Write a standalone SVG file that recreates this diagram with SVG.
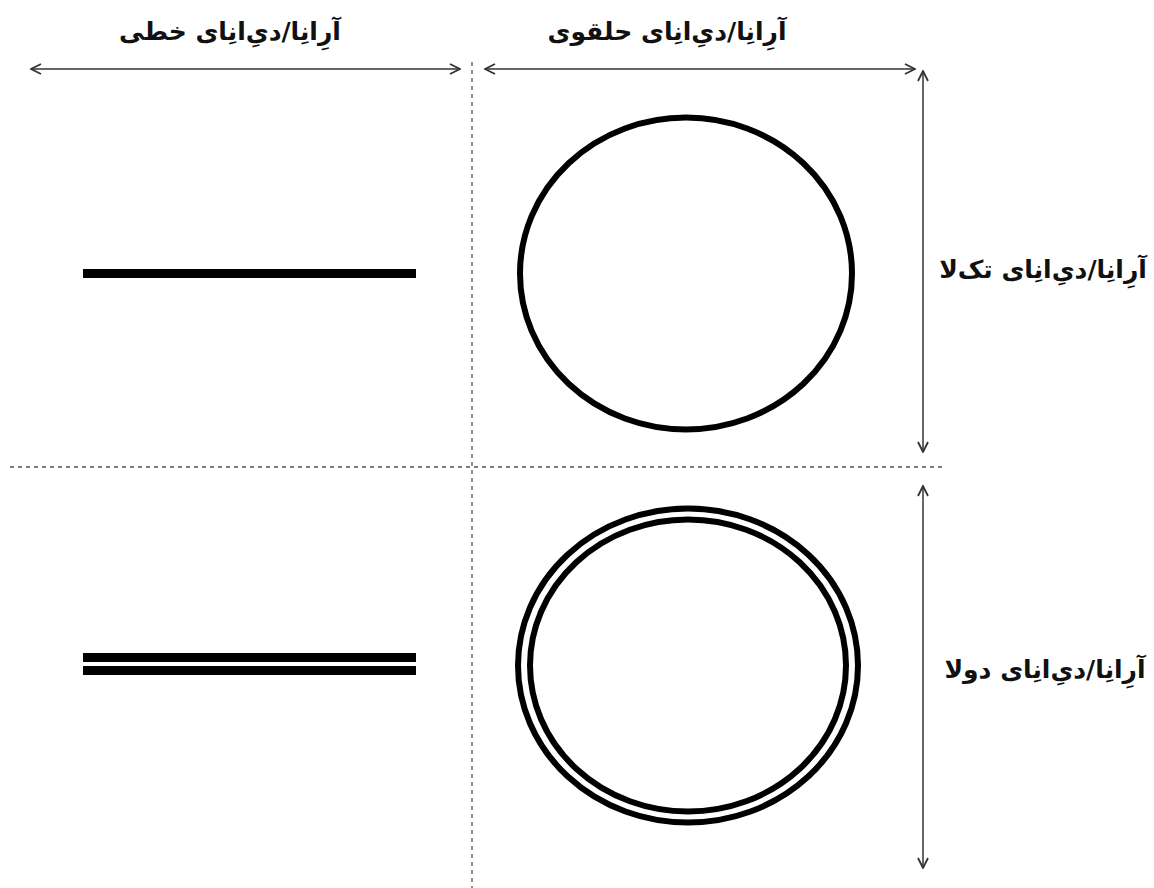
<svg xmlns="http://www.w3.org/2000/svg" width="1154" height="888" viewBox="0 0 1154 888">
<style>
.lbl{font-family:"DejaVu Sans","Noto Sans",sans-serif;font-size:25px;font-weight:bold;fill:#111;text-anchor:middle;direction:rtl;unicode-bidi:embed}
.dash{stroke:#555;stroke-width:1.3;stroke-dasharray:4,4;fill:none}
.arr{stroke:#333;stroke-width:1.5;fill:none;marker-start:url(#ah);marker-end:url(#ah)}
.ring{fill:none;stroke:#000;stroke-width:6}
</style>
<defs>
<marker id="ah" viewBox="0 0 12 12" refX="11" refY="6" markerWidth="12" markerHeight="12" markerUnits="userSpaceOnUse" orient="auto-start-reverse">
<path d="M1,1 L11,6 L1,11" fill="none" stroke="#333" stroke-width="1.8"/>
</marker>
</defs>
<rect width="1154" height="888" fill="#fff"/>
<g id="connectors">
<line class="dash" x1="472" y1="62" x2="472" y2="888"/>
<line class="dash" x1="10" y1="467" x2="945" y2="467"/>
<line class="arr" x1="31" y1="69" x2="460" y2="69"/>
<line class="arr" x1="485" y1="69" x2="915" y2="69"/>
<line class="arr" x1="923" y1="71" x2="923" y2="452"/>
<line class="arr" x1="923" y1="486" x2="923" y2="868"/>
</g>
<g id="label-linear"><text class="lbl" x="230" y="40">آرِانِا/دیِ‌انِای خطی</text></g>
<g id="label-circular"><text class="lbl" x="667" y="40">آرِانِا/دیِ‌انِای حلقوی</text></g>
<g id="label-single"><text class="lbl" x="1043" y="278">آرِانِا/دیِ‌انِای تک‌لا</text></g>
<g id="label-double"><text class="lbl" x="1045" y="678">آرِانِا/دیِ‌انِای دولا</text></g>
<g id="linear-single"><rect x="83" y="269" width="333" height="9" fill="#000"/></g>
<g id="linear-double"><rect x="83" y="653" width="333" height="9" fill="#000"/><rect x="83" y="666" width="333" height="9" fill="#000"/></g>
<g id="circular-single"><ellipse class="ring" cx="686" cy="273.5" rx="166" ry="156"/></g>
<g id="circular-double"><ellipse class="ring" cx="688" cy="665.5" rx="170" ry="157"/><ellipse class="ring" cx="688" cy="665.5" rx="158" ry="146"/></g>
</svg>
